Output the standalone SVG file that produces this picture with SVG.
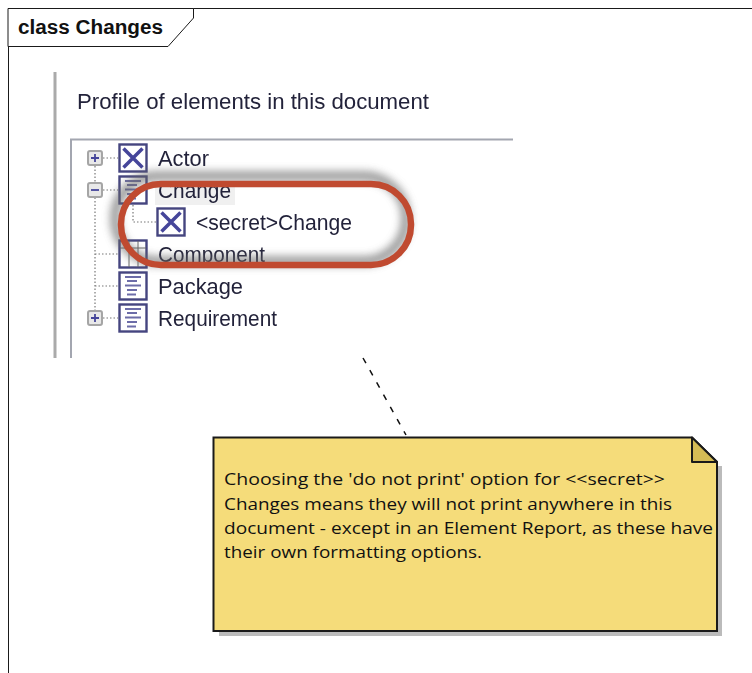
<svg xmlns="http://www.w3.org/2000/svg" width="752" height="673" viewBox="0 0 752 673">
<style>
.f{fill:none;stroke:#1a1a1a;stroke-width:1}
.t{font-family:"Liberation Sans",Arial,sans-serif;font-size:22px;fill:#23233a}
.n{font-family:"Open Sans","Noto Sans",sans-serif;font-size:17px;fill:#111}
.i{fill:#fff;stroke:#45457f;stroke-width:2.400}
.x{stroke:#45459a;stroke-width:3.500;fill:none}
.l{stroke:#6c6ca8;stroke-width:1.800;fill:none}
.d{stroke:#777;stroke-width:1.200;stroke-dasharray:1.500 2;fill:none}
.b{fill:#e8e8e8;stroke:#a5a5a5;stroke-width:2}
.p{stroke:#45459a;stroke-width:1.800;fill:none}
</style>
<defs>
<filter id="bl" x="-10%" y="-20%" width="120%" height="140%"><feGaussianBlur stdDeviation="4"/></filter>
<filter id="soft" x="-2%" y="-2%" width="104%" height="104%"><feGaussianBlur stdDeviation="0.450"/></filter>
<g id="xi"><rect class="i" x="-13.500" y="-13.500" width="27" height="27"/><path class="x" d="M-9.500-9.500 9.500 9.500M9.500-9.500-9.500 9.500"/></g>
<g id="li"><rect class="i" x="-13.500" y="-13.500" width="27" height="27"/><path class="l" d="M-8-9H8M-6-5H4M-8-.5H8M-6 4H4M-6 8.500H3"/></g>
<g id="pl"><rect class="b" x="-7" y="-7" width="14" height="14" rx="2"/><path class="p" d="M-4 0H4M0-4V4"/></g>
<g id="mi"><rect class="b" x="-7" y="-7" width="14" height="14" rx="2"/><path class="p" d="M-4 0H4"/></g>
</defs>
<rect width="752" height="673" fill="#fff"/>
<g id="frame">
<path class="f" d="M8 8.500H752M8.500 8V673"/>
<path d="M8 8.500H193.500V18L168 46.500H8Z" fill="#fff" stroke="#1a1a1a"/>
<text x="18" y="34" textLength="145" lengthAdjust="spacingAndGlyphs" style="font-family:'Liberation Sans',Arial,sans-serif;font-size:20px;font-weight:bold" fill="#111">class Changes</text>
</g>
<g id="screenshot">
<g filter="url(#soft)">
<rect x="53.500" y="72" width="3" height="286" fill="#aaa"/>
<text class="t" x="77" y="109" textLength="352" lengthAdjust="spacingAndGlyphs">Profile of elements in this document</text>
<path d="M71 358V139.500H513" fill="none" stroke="#a3a6b0" stroke-width="2"/>
<rect x="155" y="181" width="80" height="24" fill="#f0f0f0"/>
<path class="d" d="M95 166V311M103 158H118M103 190H118M95 254H118M95 286H118M103 318H118M133 205V222H157"/>
<use href="#pl" x="95" y="158"/><use href="#mi" x="95" y="190"/><use href="#pl" x="95" y="318"/>
<use href="#xi" x="133" y="158"/><use href="#li" x="133" y="190"/><use href="#xi" x="171" y="222"/>
<g transform="translate(133 254)"><rect class="i" x="-13.500" y="-13.500" width="27" height="27"/><path d="M-13-6H13M-4-13V13M5-13V13" stroke="#666" fill="none"/></g>
<use href="#li" x="133" y="286"/><use href="#li" x="133" y="318"/>
<text class="t" x="158" y="166" textLength="51" lengthAdjust="spacingAndGlyphs">Actor</text>
<text class="t" x="158" y="198" textLength="73" lengthAdjust="spacingAndGlyphs">Change</text>
<text class="t" x="196" y="230" textLength="156" lengthAdjust="spacingAndGlyphs">&lt;secret&gt;Change</text>
<text class="t" x="158" y="262" textLength="107" lengthAdjust="spacingAndGlyphs">Component</text>
<text class="t" x="158" y="294" textLength="85" lengthAdjust="spacingAndGlyphs">Package</text>
<text class="t" x="158" y="326" textLength="119" lengthAdjust="spacingAndGlyphs">Requirement</text>
</g>
</g>
<g id="highlight">
<rect x="115" y="176" width="291" height="85" rx="42" fill="none" stroke="#666" stroke-width="9" opacity=".7" filter="url(#bl)"/>
<rect x="121" y="184" width="290" height="81" rx="40" fill="none" stroke="#c04a30" stroke-width="6.500"/>
</g>
<g id="connectors">
<path d="M363 358 406 435" fill="none" stroke="#111" stroke-width="1.500" stroke-dasharray="6 8"/>
</g>
<g id="note">
<path d="M717 466H722V636H219V631H717Z" fill="#bbb"/>
<path d="M213.500 437.500H692L717 462V631H213.500Z" fill="#f5dc7a" stroke="#1a1a1a" stroke-width="2"/>
<path d="M692 437.500V462H717Z" fill="#d4bb55" stroke="#1a1a1a" stroke-width="2" stroke-linejoin="round"/>
<text class="n" x="224" y="485" textLength="441" lengthAdjust="spacingAndGlyphs">Choosing the 'do not print' option for &lt;&lt;secret&gt;&gt;</text>
<text class="n" x="224" y="510" textLength="448" lengthAdjust="spacingAndGlyphs">Changes means they will not print anywhere in this</text>
<text class="n" x="224" y="534" textLength="489" lengthAdjust="spacingAndGlyphs">document - except in an Element Report, as these have</text>
<text class="n" x="224" y="558" textLength="258" lengthAdjust="spacingAndGlyphs">their own formatting options.</text>
</g>
</svg>
